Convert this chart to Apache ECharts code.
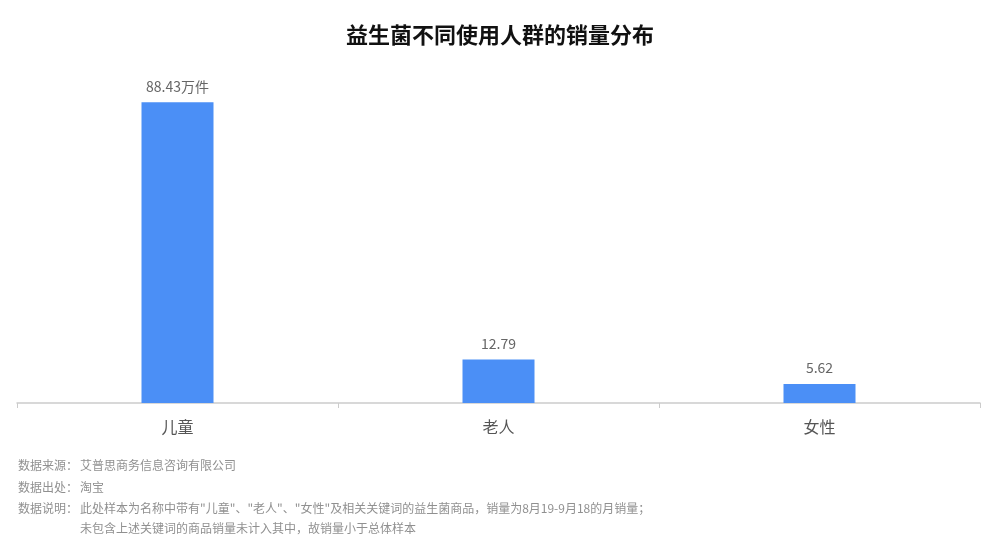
<!DOCTYPE html>
<html><head><meta charset="utf-8">
<script src="https://cdn.jsdelivr.net/npm/echarts@6/dist/echarts.min.js"></script>
<style>html,body{margin:0;padding:0;background:#fff}#c{width:1000px;height:545px}</style>
</head><body><div id="c"></div>
<script>
var categories = ['儿童', '老人', '女性'];
var values = [88.43, 12.79, 5.62];
var valueLabels = ['88.43万件', '12.79', '5.62'];
var footerLabels = ['数据来源：', '数据出处：', '数据说明：', ''];
var footerTexts = ['艾普思商务信息咨询有限公司', '淘宝', '此处样本为名称中带有"儿童"、"老人"、"女性"及相关关键词的益生菌商品，销量为8月19-9月18的月销量；', '未包含上述关键词的商品销量未计入其中，故销量小于总体样本'];

var chart = echarts.init(document.getElementById('c'));
var footer = [];
var fy = [466, 488, 509, 529];
for (var i = 0; i < footerTexts.length; i++) {
  if (footerLabels[i]) footer.push({type:'text', left:18, top:fy[i]-7, style:{text:footerLabels[i], fill:'#909090', font:'12px "Noto Sans CJK SC", sans-serif'}});
  footer.push({type:'text', left:80, top:fy[i]-7, style:{text:footerTexts[i], fill:'#909090', font:'12px "Noto Sans CJK SC", sans-serif'}});
}
chart.setOption({
  animation:false,
  title:{text:'益生菌不同使用人群的销量分布', left:'center', top:19, textStyle:{fontSize:22, fontWeight:'bold', color:'#111', fontFamily:'"Noto Sans CJK SC", sans-serif'}},
  grid:{left:17, right:20, top:63, bottom:142, containLabel:false},
  xAxis:{type:'category', data:categories,
    axisLine:{lineStyle:{color:'#cccccc', width:1.5}},
    axisTick:{show:true, length:5, lineStyle:{color:'#cccccc'}},
    axisLabel:{fontSize:16, color:'#555', margin:16, fontFamily:'"Noto Sans CJK SC", sans-serif'}},
  yAxis:{type:'value', min:0, max:100, show:false, splitLine:{show:false}},
  series:[{type:'bar', data:values, barWidth:72, itemStyle:{color:'#4b8ff6'},
    label:{show:true, position:'top', distance:9, color:'#666', fontSize:14, fontFamily:'"Noto Sans CJK SC", sans-serif',
      formatter:function(p){return valueLabels[p.dataIndex];}}}],
  graphic:footer
});
</script></body></html>
